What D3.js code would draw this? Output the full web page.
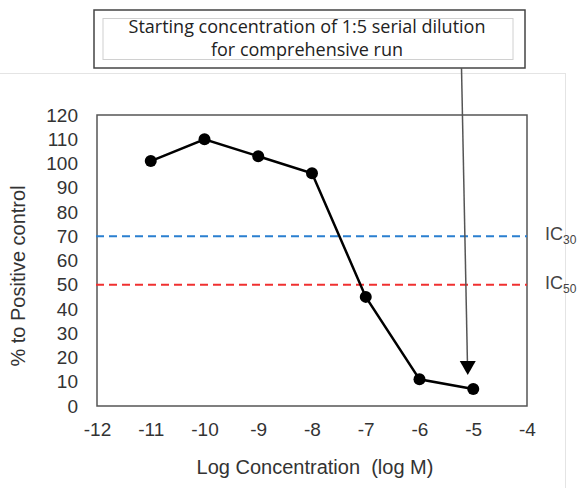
<!DOCTYPE html>
<style>
  body { margin: 0; background: #fff; }
  svg { font-family: "Liberation Sans", Arial, sans-serif; }
</style>
<svg width="580" height="488"></svg>
<script src="https://d3js.org/d3.v7.min.js"></script>
<script>

  var logConc = [-11, -10, -9, -8, -7, -6, -5],
    pctControl = [101, 110, 103, 96, 45, 11, 7];

  var xTicks = [-12, -11, -10, -9, -8, -7, -6, -5, -4],
    yTicks = [0, 10, 20, 30, 40, 50, 60, 70, 80, 90, 100, 110, 120];

  var refLevels = [70, 50],
    refNames = ["30", "50"],
    refColors = ["#2a7fd0", "#f03030"];

  var noteLines = ["Starting concentration of 1:5 serial dilution", "for comprehensive run"],
    noteTarget = -5;

  var svg = d3.select("svg");
  var m = { left: 97, right: 527, top: 115, bottom: 406 };

  var x = d3.scaleLinear().domain([-12, -4]).range([m.left, m.right]),
    y = d3.scaleLinear().domain([0, 120]).range([m.bottom, m.top]);

  // faint outer chart frame
  svg.append("rect")
    .attr("x", -2).attr("y", 73.5)
    .attr("width", 567.5).attr("height", 420)
    .attr("fill", "none").attr("stroke", "#e4e4e4");

  // plot frame
  svg.append("rect")
    .attr("x", m.left).attr("y", m.top)
    .attr("width", m.right - m.left).attr("height", m.bottom - m.top)
    .attr("fill", "none").attr("stroke", "#555").attr("stroke-width", 1.5);

  var yAxis = svg.append("g")
    .attr("transform", "translate(" + (m.left - 13) + ",0)")
    .call(d3.axisLeft(y).tickValues(yTicks).tickSize(0).tickPadding(6));
  yAxis.select(".domain").remove();
  yAxis.selectAll("text").attr("font-size", 19).attr("fill", "#333")
    .attr("font-family", "'Liberation Sans', Arial, sans-serif");

  var xAxis = svg.append("g")
    .attr("transform", "translate(0," + (m.bottom + 16) + ")")
    .call(d3.axisBottom(x).tickValues(xTicks).tickSize(0).tickPadding(0)
      .tickFormat(function (d) { return "-" + Math.abs(d); }));
  xAxis.select(".domain").remove();
  xAxis.selectAll("text").attr("font-size", 19).attr("fill", "#333")
    .attr("font-family", "'Liberation Sans', Arial, sans-serif");

  svg.append("text")
    .attr("x", 315).attr("y", 474)
    .attr("text-anchor", "middle").attr("font-size", 20).attr("fill", "#333")
    .attr("xml:space", "preserve")
    .text("Log Concentration  (log M)");

  svg.append("text")
    .attr("transform", "translate(25," + 276 + ") rotate(-90)")
    .attr("text-anchor", "middle").attr("font-size", 20).attr("fill", "#333")
    .text("% to Positive control");

  // IC reference lines
  refLevels.forEach(function (v, i) {
    svg.append("line")
      .attr("x1", m.left - 1).attr("x2", m.right)
      .attr("y1", y(v)).attr("y2", y(v))
      .attr("stroke", refColors[i]).attr("stroke-width", 2)
      .attr("stroke-dasharray", "8,5");
    var t = svg.append("text")
      .attr("x", 545).attr("y", y(v) + 4)
      .attr("font-size", 18).attr("fill", "#444");
    t.append("tspan").text("IC");
    t.append("tspan").attr("font-size", 12).attr("dy", 4).text(refNames[i]);
  });

  // data
  var pts = logConc.map(function (d, i) { return [d, pctControl[i]]; });
  svg.append("path")
    .datum(pts)
    .attr("fill", "none").attr("stroke", "#000").attr("stroke-width", 2.5)
    .attr("d", d3.line().x(function (d) { return x(d[0]); }).y(function (d) { return y(d[1]); }));

  svg.selectAll("circle.pt")
    .data(pts)
    .enter().append("circle")
    .attr("class", "pt")
    .attr("cx", function (d) { return x(d[0]); })
    .attr("cy", function (d) { return y(d[1]); })
    .attr("r", 6).attr("fill", "#000");

  // annotation box + arrow
  svg.append("rect")
    .attr("x", 94).attr("y", 10).attr("width", 431).attr("height", 58)
    .attr("fill", "#fff").attr("stroke", "#444").attr("stroke-width", 1.5);
  svg.append("rect")
    .attr("x", 103).attr("y", 18.5).attr("width", 410).attr("height", 41)
    .attr("fill", "none").attr("stroke", "#d0d0d0");

  svg.append("g").selectAll("text")
    .data(noteLines)
    .enter().append("text")
    .attr("x", 307).attr("y", function (d, i) { return 33 + i * 23; })
    .attr("text-anchor", "middle")
    .attr("font-family", "'Open Sans', 'Noto Sans', sans-serif")
    .attr("font-size", 18).attr("fill", "#222")
    .text(function (d) { return d; });

  var tipX = x(noteTarget) - 5.5, tipY = y(pctControl[6]) - 14;
  svg.append("line")
    .attr("x1", 461.5).attr("y1", 68).attr("x2", tipX - 0.3).attr("y2", tipY - 12)
    .attr("stroke", "#555").attr("stroke-width", 1.5);
  svg.append("path")
    .attr("d", "M" + (tipX - 8) + "," + (tipY - 14) + "L" + (tipX + 8) + "," + (tipY - 14) + "L" + tipX + "," + tipY + "Z")
    .attr("fill", "#000");

</script>
